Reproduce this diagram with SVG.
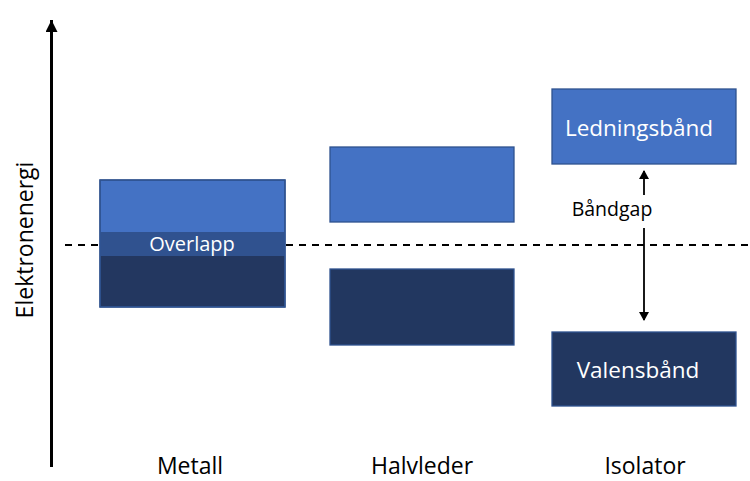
<svg xmlns="http://www.w3.org/2000/svg" width="750" height="481" viewBox="0 0 750 481">
<style>
.lt{fill:#4472C4;stroke:#2F528F;stroke-width:1.3}
.dk{fill:#223760;stroke:#2F528F;stroke-width:1.3}
.ov{fill:#30528F}
text{font-family:"Open Sans","Noto Sans","Liberation Sans",sans-serif}
.w{fill:#ffffff;font-size:22.5px;text-anchor:middle}
.b{fill:#000000;font-size:23px;text-anchor:middle}
</style>
<defs>
<marker id="ah" markerWidth="10" markerHeight="10" refX="8" refY="5" orient="auto" markerUnits="userSpaceOnUse">
<path d="M0,0 L9,5 L0,10 z" fill="#000"/>
</marker>
<marker id="axh" markerWidth="14" markerHeight="14" refX="12" refY="6" orient="auto" markerUnits="userSpaceOnUse">
<path d="M0,0 L12,6 L0,12 z" fill="#000"/>
</marker>
</defs>
<g id="connectors">
<line x1="65" y1="245" x2="750" y2="245" stroke="#000" stroke-width="2" stroke-dasharray="7,6"/>
<line x1="644" y1="195" x2="644" y2="171" stroke="#000" stroke-width="1.8" marker-end="url(#ah)"/>
<line x1="644" y1="228" x2="644" y2="320" stroke="#000" stroke-width="1.8" marker-end="url(#ah)"/>
</g>
<g id="axis">
<line x1="51.5" y1="467" x2="51.5" y2="20" stroke="#000" stroke-width="3" marker-end="url(#axh)"/>
<text class="b" transform="translate(33,240) rotate(-90)">Elektronenergi</text>
</g>
<g id="metall">
<rect class="lt" x="100" y="180" width="185" height="127"/>
<rect class="ov" x="100.6" y="232" width="183.8" height="24"/>
<rect fill="#233760" x="100.6" y="256" width="183.8" height="50.4"/>
<rect x="100" y="180" width="185" height="127" fill="none" stroke="#2F528F" stroke-width="1.3"/>
<text class="w" x="192" y="251" style="font-size:20px">Overlapp</text>
<text class="b" x="190" y="474">Metall</text>
</g>
<g id="halvleder">
<rect class="lt" x="330" y="147" width="184" height="75"/>
<rect class="dk" x="330" y="269" width="184" height="76"/>
<text class="b" x="422" y="474">Halvleder</text>
</g>
<g id="isolator">
<rect class="lt" x="552" y="89" width="184" height="75"/>
<text class="w" x="639" y="136">Ledningsbånd</text>
<rect class="dk" x="552" y="332" width="184" height="74"/>
<text class="w" x="638" y="378">Valensbånd</text>
<text x="612" y="216" style="font-size:19.5px;text-anchor:middle;fill:#000">Båndgap</text>
<text class="b" x="645" y="474">Isolator</text>
</g>
</svg>
